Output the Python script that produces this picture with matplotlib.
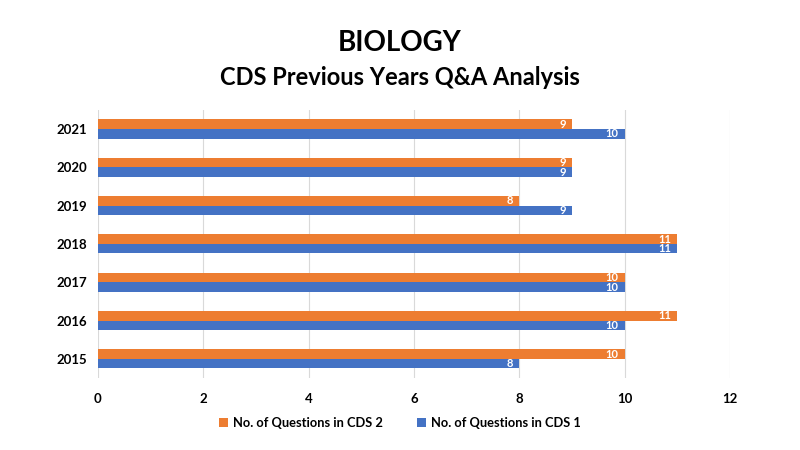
import numpy as np
import matplotlib.pyplot as plt

plt.rcParams['font.family'] = ['Lato', 'DejaVu Sans']

years = ['2015', '2016', '2017', '2018', '2019', '2020', '2021']
cds1 = [8, 10, 10, 11, 9, 9, 10]
cds2 = [10, 11, 10, 11, 8, 9, 9]

orange = '#ED7D31'
blue = '#4472C4'

fig = plt.figure(figsize=(8, 4.5), dpi=100)
ax = fig.add_axes([0.1225, 0.16, 0.79, 0.596])

y = np.arange(len(years))
h = 0.25
b2 = ax.barh(y + h / 2, cds2, height=h, color=orange, label='No. of Questions in CDS 2')
b1 = ax.barh(y - h / 2, cds1, height=h, color=blue, label='No. of Questions in CDS 1')

for bars in (b2, b1):
    for bar in bars:
        w = bar.get_width()
        ax.text(w - 0.12, bar.get_y() + bar.get_height() / 2, f'{int(w)}',
                ha='right', va='center', color='white', fontsize=8, fontweight='bold')

ax.set_xlim(0, 12)
ax.set_ylim(-0.5, len(years) - 0.5)
ax.set_xticks(range(0, 13, 2))
ax.set_yticks(y)
ax.set_yticklabels(years)
ax.tick_params(axis='y', length=0, labelsize=9.5, pad=8)
ax.tick_params(axis='x', length=0, labelsize=9.5, pad=11)
for lbl in ax.get_xticklabels() + ax.get_yticklabels():
    lbl.set_fontweight('bold')
ax.grid(axis='x', color='#D9D9D9', linewidth=0.8)
ax.set_axisbelow(True)
for s in ax.spines.values():
    s.set_visible(False)

fig.text(0.5, 0.905, 'BIOLOGY', ha='center', va='center', fontsize=20, fontweight='bold')
fig.text(0.5, 0.828, 'CDS Previous Years Q&A Analysis', ha='center', va='center',
         fontsize=17, fontweight='bold')

leg = fig.legend(handles=[b2, b1], loc='center', bbox_to_anchor=(0.5, 0.06), ncol=2,
                 frameon=False, fontsize=9.3, handlelength=0.7, handleheight=0.7,
                 columnspacing=2.6, handletextpad=0.4)
for t in leg.get_texts():
    t.set_fontweight('bold')

fig.savefig('out.png', dpi=100)
